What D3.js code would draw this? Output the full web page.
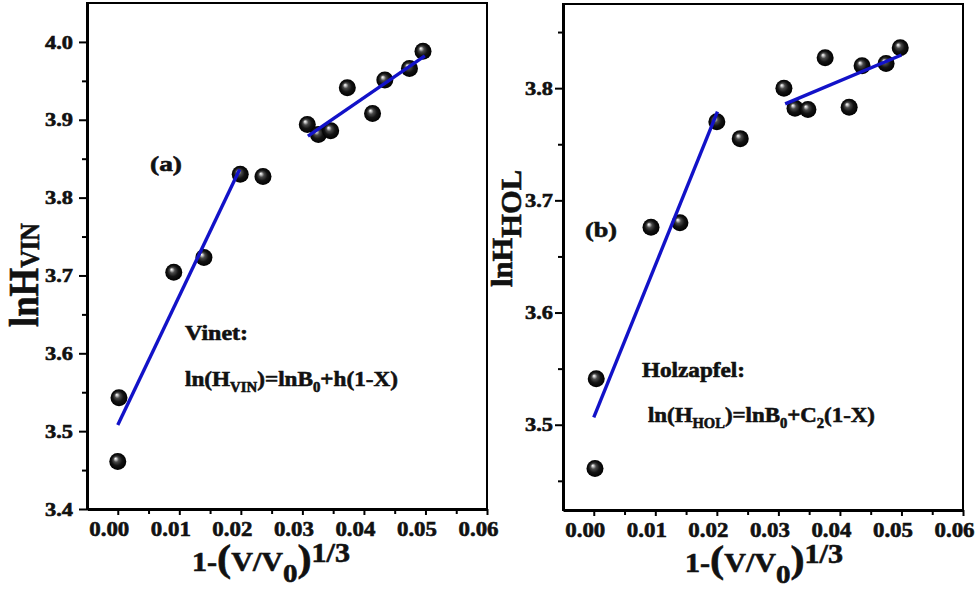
<!DOCTYPE html>
<html>
<head>
<meta charset="utf-8">
<script src="https://cdn.jsdelivr.net/npm/d3@7"></script>
<style>
  body { margin: 0; background: #fff; }
  svg { display: block; }
  text { font-family: "Liberation Serif", "Times New Roman", Times, serif; font-weight: bold; fill: #111; }
  .heavy { stroke: #111; stroke-width: 0.6; }
</style>
</head>
<body>
<svg id="chart" width="978" height="590"></svg>
<script>
// data
const xVin = [0.0000, 0.0002, 0.0091, 0.0140, 0.0199, 0.0236, 0.0308, 0.0326, 0.0346, 0.0373, 0.0414, 0.0434, 0.0474, 0.0496];
const yVin = [3.461, 3.543, 3.704, 3.723, 3.830, 3.827, 3.894, 3.881, 3.886, 3.941, 3.908, 3.951, 3.966, 3.988];
const xHol = [0.0002, 0.0004, 0.0093, 0.0140, 0.0200, 0.0238, 0.0309, 0.0327, 0.0348, 0.0376, 0.0415, 0.0436, 0.0475, 0.0498];
const yHol = [3.461, 3.541, 3.676, 3.680, 3.770, 3.755, 3.800, 3.782, 3.781, 3.827, 3.783, 3.820, 3.822, 3.836];

// fitted line segments (two per panel)
const vinFitX1 = [0.0000, 0.0198], vinFitY1 = [3.508, 3.836];
const vinFitX2 = [0.0309, 0.0499], vinFitY2 = [3.879, 3.982];
const holFitX1 = [0.0000, 0.0201], holFitY1 = [3.5065, 3.779];
const holFitX2 = [0.0311, 0.0500], holFitY2 = [3.786, 3.8295];

// ticks
const xMajor = [0, 0.01, 0.02, 0.03, 0.04, 0.05, 0.06];
const xMinor = [0.005, 0.015, 0.025, 0.035, 0.045, 0.055];
const vinYMajor = [3.4, 3.5, 3.6, 3.7, 3.8, 3.9, 4.0];
const vinYMinor = [3.45, 3.55, 3.65, 3.75, 3.85, 3.95];
const holYMajor = [3.5, 3.6, 3.7, 3.8];
const holYMinor = [3.45, 3.55, 3.65, 3.75, 3.85];

const svg = d3.select("#chart");

// sphere look of the markers
const grad = svg.append("defs").append("radialGradient")
  .attr("id", "ball").attr("cx", 0.5).attr("cy", 0.5).attr("r", 0.5)
  .attr("fx", 0.36).attr("fy", 0.32);
[["0%", "#ffffff"], ["12%", "#c8c8c8"], ["32%", "#4a4a4a"], ["62%", "#141414"], ["100%", "#000"]]
  .forEach(s => grad.append("stop").attr("offset", s[0]).attr("stop-color", s[1]));

const panels = [
  { x: xVin, y: yVin, fits: [[vinFitX1, vinFitY1], [vinFitX2, vinFitY2]],
    left: 87, right: 487, top: 3, bottom: 509, yDomain: [3.4, 4.05],
    yMajor: vinYMajor, yMinor: vinYMinor, yLabRight: 73,
    tag: "(a)", tagPos: [150, 171],
    name: "Vinet:", namePos: [185, 340], nameLen: 63,
    eq: ["ln(H", "VIN", ")=lnB", "0", "+h(1-X)"], eqPos: [185, 386], eqLen: 213,
    xlabPos: [192, 571],
    ylab: { pos: [38, 327], main: 42, sub: 28, subDy: 1, text: "VIN", len: 104 } },
  { x: xHol, y: yHol, fits: [[holFitX1, holFitY1], [holFitX2, holFitY2]],
    left: 563, right: 963, top: 4, bottom: 510, yDomain: [3.424, 3.875],
    yMajor: holYMajor, yMinor: holYMinor, yLabRight: 553,
    tag: "(b)", tagPos: [585, 237],
    name: "Holzapfel:", namePos: [642, 377], nameLen: 103,
    eq: ["ln(H", "HOL", ")=lnB", "0", "+C", "2", "(1-X)"], eqPos: [648, 422], eqLen: 227,
    xlabPos: [685, 572],
    ylab: { pos: [512, 287], main: 30, sub: 30, subDy: 9, text: "HOL", len: 117 } }
];

panels.forEach(p => {
  const x = d3.scaleLinear().domain([-0.005, 0.06]).range([p.left, p.right]);
  const y = d3.scaleLinear().domain(p.yDomain).range([p.bottom, p.top]);
  const g = svg.append("g");

  // frame
  g.append("rect")
    .attr("x", p.left).attr("y", p.top)
    .attr("width", p.right - p.left).attr("height", p.bottom - p.top)
    .attr("fill", "none").attr("stroke", "#000").attr("stroke-width", 2);

  // minor ticks
  g.append("g").attr("transform", `translate(0,${p.bottom})`)
    .call(d3.axisBottom(x).tickValues(xMinor).tickSize(5).tickFormat(""))
    .call(a => a.select(".domain").remove());
  g.append("g").attr("transform", `translate(${p.left},0)`)
    .call(d3.axisLeft(y).tickValues(p.yMinor).tickSize(5).tickFormat(""))
    .call(a => a.select(".domain").remove());

  // major ticks + labels (labels start-anchored so textLength spans a known box)
  const xa = g.append("g").attr("transform", `translate(0,${p.bottom})`)
    .call(d3.axisBottom(x).tickValues(xMajor).tickSize(6).tickSizeOuter(0)
      .tickPadding(6).tickFormat(d3.format(".2f")));
  xa.selectAll("text").attr("text-anchor", "start").attr("x", -29)
    .attr("font-size", 21).attr("textLength", 40).attr("lengthAdjust", "spacingAndGlyphs")
    .attr("class", "heavy");
  const ya = g.append("g").attr("transform", `translate(${p.left},0)`)
    .call(d3.axisLeft(y).tickValues(p.yMajor).tickSize(8).tickSizeOuter(0)
      .tickFormat(d3.format(".1f")));
  ya.selectAll("text").attr("text-anchor", "start").attr("x", p.yLabRight - p.left - 28)
    .attr("font-size", 19).attr("textLength", 28).attr("lengthAdjust", "spacingAndGlyphs")
    .attr("class", "heavy");
  g.selectAll(".tick line").attr("stroke", "#000").attr("stroke-width", 2);
  g.selectAll(".domain").attr("stroke", "#000").attr("stroke-width", 3);
  g.selectAll(".tick text").attr("fill", "#111");

  // points
  g.append("g").selectAll("circle")
    .data(d3.zip(p.x, p.y))
    .join("circle")
    .attr("cx", d => x(d[0])).attr("cy", d => y(d[1]))
    .attr("r", 8.5).attr("fill", "url(#ball)");

  // fits
  const line = d3.line().x(d => x(d[0])).y(d => y(d[1]));
  p.fits.forEach(f => {
    g.append("path").datum(d3.zip(f[0], f[1]))
      .attr("d", line).attr("fill", "none")
      .attr("stroke", "#1212c8").attr("stroke-width", 3.4);
  });

  // annotations
  g.append("text").attr("x", p.tagPos[0]).attr("y", p.tagPos[1]).attr("class", "heavy")
    .attr("font-size", 22).attr("textLength", 32).attr("lengthAdjust", "spacingAndGlyphs")
    .text(p.tag);
  g.append("text").attr("x", p.namePos[0]).attr("y", p.namePos[1]).attr("class", "heavy")
    .attr("font-size", 22).attr("textLength", p.nameLen).attr("lengthAdjust", "spacingAndGlyphs")
    .text(p.name);
  const eq = g.append("text").attr("x", p.eqPos[0]).attr("y", p.eqPos[1]).attr("class", "heavy")
    .attr("font-size", 22).attr("textLength", p.eqLen).attr("lengthAdjust", "spacingAndGlyphs");
  p.eq.forEach((s, i) => {
    const sub = i % 2 === 1;
    eq.append("tspan").attr("font-size", sub ? 14 : 22)
      .attr("dy", i === 0 ? 0 : (sub ? 6 : -6)).text(s);
  });

  // x axis title 1-(V/V0)^1/3
  const xl = g.append("text").attr("x", p.xlabPos[0]).attr("y", p.xlabPos[1]).attr("class", "heavy")
    .attr("textLength", 158).attr("lengthAdjust", "spacingAndGlyphs");
  xl.append("tspan").attr("font-size", 27).text("1-");
  xl.append("tspan").attr("font-size", 38).text("(");
  xl.append("tspan").attr("font-size", 27).text("V/V");
  xl.append("tspan").attr("font-size", 26).attr("dy", 11).text("0");
  xl.append("tspan").attr("font-size", 38).attr("dy", -11).text(")");
  xl.append("tspan").attr("font-size", 27).attr("dy", -9).text("1/3");

  // y axis title lnH_sub
  const yl = g.append("text").attr("class", "heavy")
    .attr("transform", `translate(${p.ylab.pos[0]},${p.ylab.pos[1]}) rotate(-90)`)
    .attr("textLength", p.ylab.len).attr("lengthAdjust", "spacingAndGlyphs");
  yl.append("tspan").attr("font-size", p.ylab.main).text("lnH");
  yl.append("tspan").attr("font-size", p.ylab.sub).attr("dy", p.ylab.subDy).text(p.ylab.text);
});
</script>
</body>
</html>
